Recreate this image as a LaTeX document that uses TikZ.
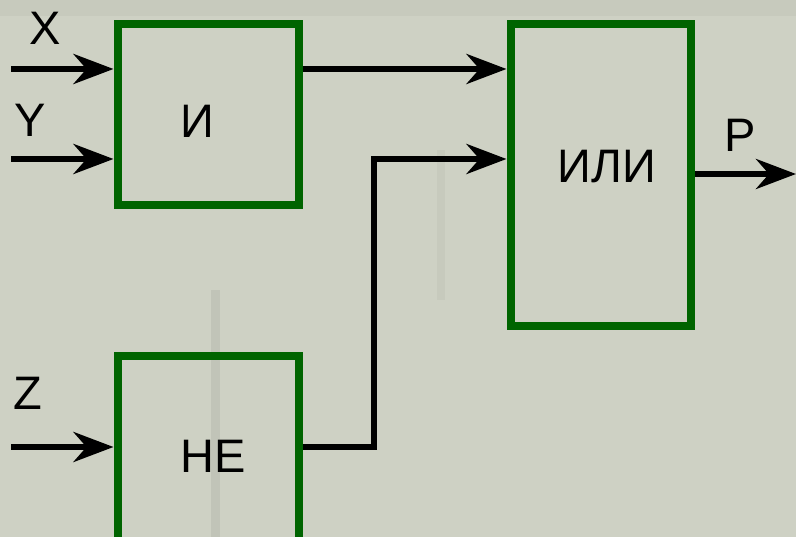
\documentclass[tikz,border=0pt]{standalone}
\usepackage{fontspec}
\setmainfont{Liberation Sans}
\usetikzlibrary{arrows.meta}
\definecolor{bg}{RGB}{206,209,196}
\definecolor{gatecol}{RGB}{0,100,0}
\begin{document}
\begin{tikzpicture}[x=1pt,y=-1pt,
  gate/.style={draw=gatecol,line width=8pt,minimum width=181pt,inner sep=0pt},
  lbl/.style={font=\fontsize{47}{47}\selectfont,anchor=base,inner sep=0pt},
  wire/.style={line width=6pt,black,miter limit=10},
  arr/.style={wire,-{Stealth[length=40pt,width=30pt,inset=13pt]}}]
\useasboundingbox (0,0) rectangle (796,537);
\clip (0,0) rectangle (796,537);
\fill[bg] (0,0) rectangle (796,537);
% faint texture of the background
\fill[black,opacity=0.06] (211,290) rectangle (220,537);
\fill[black,opacity=0.03] (437,150) rectangle (445,300);
\fill[black,opacity=0.03] (0,0) rectangle (796,16);
% gates
\node[gate,minimum height=181pt] (and) at (208,114.5) {};
\node[gate,minimum width=180.5pt,minimum height=302pt] (or) at (600.75,175) {};
\node[gate,minimum height=190pt] (not) at (208,451.5) {};
% gate labels
\node[lbl] (andl) at (197,138) {И};
\node[lbl] (orl) at (607,183) {ИЛИ};
\node[lbl] (notl) at (213,472) {НЕ};
% inputs
\coordinate (xin) at (11,69);
\coordinate (yin) at (11,159);
\coordinate (zin) at (11,447);
\coordinate (bend) at (374,0);
\coordinate (pout) at (796,174);
\node[lbl] (xl) at (45,45) {X};
\node[lbl] (yl) at (30,137) {Y};
\node[lbl] (zl) at (28,410) {Z};
\node[lbl] (pl) at (740,152) {P};
\draw[arr] (xin) -- (xin -| and.west);
\draw[arr] (yin) -- (yin -| and.west);
\draw[arr] (zin) -- (zin -| not.west);
\draw[arr] (and.east |- xin) -- (or.west |- xin);
\draw[arr] (not.east |- zin) -| (bend |- yin) -- (or.west |- yin);
\draw[arr] (or.east |- pout) -- (pout);
\end{tikzpicture}
\end{document}
